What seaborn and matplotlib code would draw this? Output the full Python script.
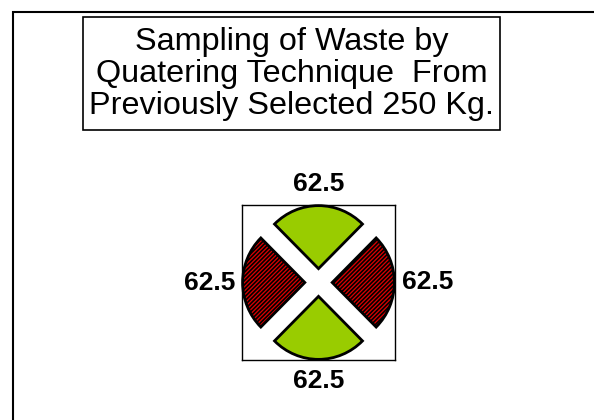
import numpy as np
import matplotlib
matplotlib.use("Agg")
import matplotlib.pyplot as plt
import seaborn as sns
from matplotlib.patches import Rectangle

sns.set_theme(style="white")
plt.rcParams["font.family"] = ["Liberation Sans", "DejaVu Sans"]
plt.rcParams["text.color"] = "black"
plt.rcParams["hatch.linewidth"] = 1.2

# Datos
cuartos = ["Arriba", "Izquierda", "Abajo", "Derecha"]
pesos = [62.5, 62.5, 62.5, 62.5]
colores = ["#99cc00", "#dd0000", "#99cc00", "#dd0000"]
tramas = [None, "////////", None, "////////"]
titulo = "Sampling of Waste by\nQuatering Technique  From\nPreviously Selected 250 Kg."

fig = plt.figure(figsize=(5.94, 4.2), dpi=100)
fig.patch.set_facecolor("white")

# Marco exterior
fig.patches.append(Rectangle((13 / 594, -0.1), 1.2, 1 - 12 / 420 + 0.1,
                             transform=fig.transFigure, fill=False,
                             edgecolor="black", linewidth=1.5))

# Caja del titulo
fig.patches.append(Rectangle((83 / 594, 1 - 130 / 420), 417 / 594, 113 / 420,
                             transform=fig.transFigure, facecolor="white",
                             edgecolor="black", linewidth=1.2))
fig.text(291.5 / 594, 1 - 74 / 420, titulo, ha="center", va="center",
         fontsize=23.3, linespacing=1.1)

# Pastel
ax = fig.add_axes([242 / 594, 60 / 420, 153 / 594, 155 / 420])
cunas, _ = ax.pie(pesos, colors=colores, explode=[0.22] * 4, startangle=45,
                  counterclock=True,
                  wedgeprops=dict(edgecolor="black", linewidth=2))
for cuna, trama in zip(cunas, tramas):
    if trama:
        cuna.set_hatch(trama)

ax.set_xlim(-1.23, 1.23)
ax.set_ylim(-1.23, 1.23)
ax.set_aspect("auto")
ax.set_frame_on(True)
for s in ax.spines.values():
    s.set_visible(True)
    s.set_edgecolor("black")
    s.set_linewidth(1.0)

# Etiquetas de cada cuarto
for cuna, valor in zip(cunas, pesos):
    ang = np.deg2rad((cuna.theta1 + cuna.theta2) / 2)
    cx, cy = cuna.center
    dx, dy = np.cos(ang), np.sin(ang)
    if abs(dx) > abs(dy):
        d = 1.12
        ha = "left" if dx > 0 else "right"
        va = "center"
    else:
        d = 1.16
        ha = "center"
        va = "bottom" if dy > 0 else "top"
    ax.text(cx + d * dx, cy + d * dy, f"{valor:g}", ha=ha, va=va,
            fontsize=19, fontweight="bold", color="black", clip_on=False)

fig.savefig("out.png", dpi=100, facecolor="white")
